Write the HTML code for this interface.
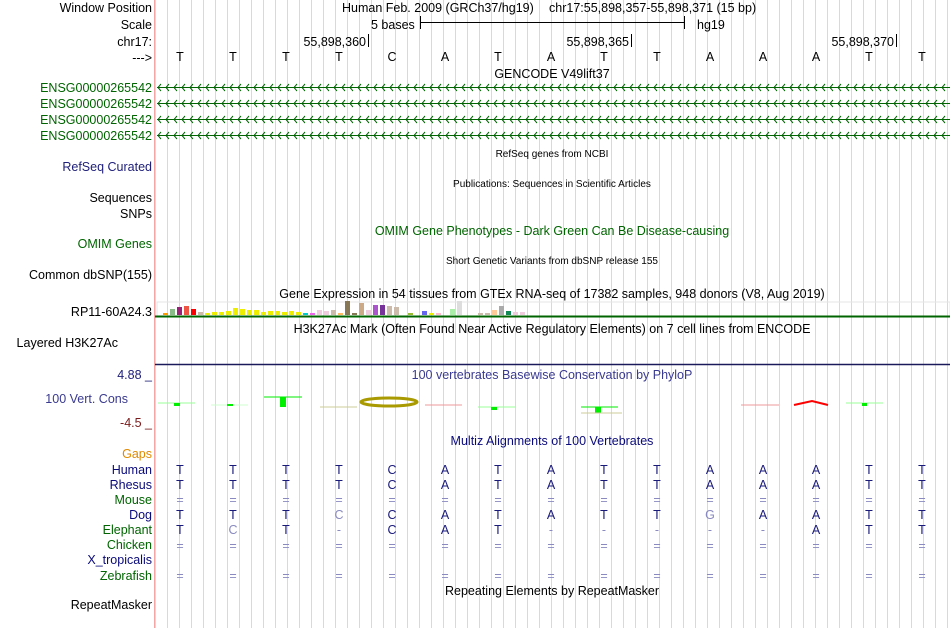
<!DOCTYPE html>
<html><head><meta charset="utf-8"><style>
html,body{margin:0;padding:0;background:#fff}
svg{display:block;font-family:"Liberation Sans",sans-serif}
</style></head><body>
<svg width="950" height="628" viewBox="0 0 950 628" xmlns="http://www.w3.org/2000/svg">
<defs>
<pattern id="grid" x="167" y="0" width="12" height="628" patternUnits="userSpaceOnUse">
<line x1="0.5" y1="0" x2="0.5" y2="628" stroke="#d6d6f4" stroke-width="1"/>
</pattern>
<pattern id="chev" x="157" y="0" width="8" height="628" patternUnits="userSpaceOnUse">
<path d="M4 84 L1 87.5 L4 91 M4 100 L1 103.5 L4 107 M4 116 L1 119.5 L4 123 M4 132 L1 135.5 L4 139" stroke="#006400" fill="none" stroke-width="1"/>
</pattern>
</defs>
<rect x="155" y="0" width="795" height="628" fill="url(#grid)"/>
<line x1="154.5" y1="0" x2="154.5" y2="628" stroke="#f4a6a6"/>
<g stroke="#006400">
<line x1="157" y1="87.5" x2="950" y2="87.5"/><line x1="157" y1="103.5" x2="950" y2="103.5"/><line x1="157" y1="119.5" x2="950" y2="119.5"/><line x1="157" y1="135.5" x2="950" y2="135.5"/>
</g>
<rect x="157" y="80" width="793" height="62" fill="url(#chev)"/>
<g font-size="12.5" text-anchor="end" fill="#000">
<text x="152" y="12">Window Position</text>
<text x="152" y="29">Scale</text>
<text x="152" y="46">chr17:</text>
<text x="152" y="62">---&gt;</text>
<g fill="#006400"><text x="152" y="92">ENSG00000265542</text><text x="152" y="108">ENSG00000265542</text><text x="152" y="124">ENSG00000265542</text><text x="152" y="140">ENSG00000265542</text></g>
<text x="152" y="171" fill="#20207a">RefSeq Curated</text>
<text x="152" y="202">Sequences</text>
<text x="152" y="218">SNPs</text>
<text x="152" y="248" fill="#006400">OMIM Genes</text>
<text x="152" y="279">Common dbSNP(155)</text>
<text x="152" y="316">RP11-60A24.3</text>
<text x="118" y="347">Layered H3K27Ac</text>
<text x="152" y="379" fill="#20207a">4.88 _</text>
<text x="128" y="403" fill="#3a3a90">100 Vert. Cons</text>
<text x="152" y="427" fill="#7a1a1a">-4.5 _</text>
<text x="152" y="458" fill="#e08a00">Gaps</text>
<text x="152" y="474" fill="#0a0a7a">Human</text>
<text x="152" y="489" fill="#0a0a7a">Rhesus</text>
<text x="152" y="504" fill="#006400">Mouse</text>
<text x="152" y="519" fill="#0a0a7a">Dog</text>
<text x="152" y="534" fill="#006400">Elephant</text>
<text x="152" y="549" fill="#006400">Chicken</text>
<text x="152" y="564" fill="#0a0a7a">X_tropicalis</text>
<text x="152" y="580" fill="#006400">Zebrafish</text>
<text x="152" y="609">RepeatMasker</text>
</g>
<g font-size="12.5" fill="#000">
<text x="342" y="12">Human Feb. 2009 (GRCh37/hg19)</text>
<text x="549" y="12">chr17:55,898,357-55,898,371 (15 bp)</text>
<text x="371" y="29">5 bases</text>
<line x1="420.5" y1="16" x2="420.5" y2="29" stroke="#000"/>
<line x1="420" y1="22.5" x2="684" y2="22.5" stroke="#000"/>
<line x1="684.5" y1="16" x2="684.5" y2="29" stroke="#000"/>
<text x="697" y="29">hg19</text>
<text x="366" y="46" text-anchor="end">55,898,360</text><line x1="368.5" y1="34" x2="368.5" y2="47" stroke="#000"/>
<text x="629" y="46" text-anchor="end">55,898,365</text><line x1="631.5" y1="34" x2="631.5" y2="47" stroke="#000"/>
<text x="894" y="46" text-anchor="end">55,898,370</text><line x1="896.5" y1="34" x2="896.5" y2="47" stroke="#000"/>
<text y="61" text-anchor="middle" x="180 233 286 339 392 445 498 551 604 657 710 763 816 869 922">TTTTCATATTAAATT</text>
<text x="552" y="78" text-anchor="middle">GENCODE V49lift37</text>
<text x="552" y="298" text-anchor="middle">Gene Expression in 54 tissues from GTEx RNA-seq of 17382 samples, 948 donors (V8, Aug 2019)</text>
<text x="552" y="333" text-anchor="middle">H3K27Ac Mark (Often Found Near Active Regulatory Elements) on 7 cell lines from ENCODE</text>
<text x="552" y="379" text-anchor="middle" fill="#3a3a90">100 vertebrates Basewise Conservation by PhyloP</text>
<text x="552" y="445" text-anchor="middle" fill="#0a0a7a">Multiz Alignments of 100 Vertebrates</text>
<text x="552" y="235" text-anchor="middle" fill="#006400">OMIM Gene Phenotypes - Dark Green Can Be Disease-causing</text>
<text x="552" y="595" text-anchor="middle">Repeating Elements by RepeatMasker</text>
</g>
<g font-size="10" fill="#000" text-anchor="middle">
<text x="552" y="157">RefSeq genes from NCBI</text>
<text x="552" y="187">Publications: Sequences in Scientific Articles</text>
<text x="552" y="264">Short Genetic Variants from dbSNP release 155</text>
</g>
<rect x="157" y="302" width="793" height="14" fill="none" stroke="#e4e4e4"/>
<g>
<rect x="163" y="313" width="5" height="2" fill="#f90"/>
<rect x="170" y="309" width="5" height="6" fill="#8b8"/>
<rect x="177" y="307" width="5" height="8" fill="#927"/>
<rect x="184" y="306" width="5" height="9" fill="#e54"/>
<rect x="191" y="309" width="5" height="6" fill="#f00"/>
<rect x="198" y="312" width="5" height="3" fill="#cba"/>
<rect x="205" y="313" width="5" height="2" fill="#ee0"/>
<rect x="212" y="312" width="5" height="3" fill="#ee0"/>
<rect x="219" y="312" width="5" height="3" fill="#ee0"/>
<rect x="226" y="311" width="5" height="4" fill="#ee0"/>
<rect x="233" y="308" width="5" height="7" fill="#ee0"/>
<rect x="240" y="309" width="5" height="6" fill="#ee0"/>
<rect x="247" y="310" width="5" height="5" fill="#ee0"/>
<rect x="254" y="310" width="5" height="5" fill="#ee0"/>
<rect x="261" y="312" width="5" height="3" fill="#ee0"/>
<rect x="268" y="311" width="5" height="4" fill="#ee0"/>
<rect x="275" y="311" width="5" height="4" fill="#ee0"/>
<rect x="282" y="312" width="5" height="3" fill="#ee0"/>
<rect x="289" y="311" width="5" height="4" fill="#ee0"/>
<rect x="296" y="312" width="5" height="3" fill="#ee0"/>
<rect x="303" y="313" width="5" height="2" fill="#0cc"/>
<rect x="310" y="313" width="5" height="2" fill="#e6e"/>
<rect x="317" y="310" width="5" height="5" fill="#ecd"/>
<rect x="324" y="311" width="5" height="4" fill="#ecd"/>
<rect x="331" y="310" width="5" height="5" fill="#cba"/>
<rect x="338" y="313" width="5" height="2" fill="#fb6"/>
<rect x="345" y="301" width="5" height="14" fill="#875"/>
<rect x="352" y="313" width="5" height="2" fill="#875"/>
<rect x="359" y="303" width="5" height="12" fill="#ca8"/>
<rect x="366" y="310" width="5" height="5" fill="#ecd"/>
<rect x="373" y="305" width="5" height="10" fill="#a5c"/>
<rect x="380" y="305" width="5" height="10" fill="#739"/>
<rect x="387" y="306" width="5" height="9" fill="#cba"/>
<rect x="394" y="307" width="5" height="8" fill="#cba"/>
<rect x="408" y="313" width="5" height="2" fill="#9b3"/>
<rect x="422" y="311" width="5" height="4" fill="#66e"/>
<rect x="429" y="313" width="5" height="2" fill="#ee0"/>
<rect x="436" y="313" width="5" height="2" fill="#fbc"/>
<rect x="450" y="309" width="5" height="6" fill="#aea"/>
<rect x="457" y="301" width="5" height="14" fill="#ddd"/>
<rect x="478" y="313" width="5" height="2" fill="#cba"/>
<rect x="485" y="313" width="5" height="2" fill="#cba"/>
<rect x="492" y="310" width="5" height="5" fill="#fc9"/>
<rect x="499" y="306" width="5" height="9" fill="#aaa"/>
<rect x="506" y="311" width="5" height="4" fill="#185"/>
<rect x="513" y="312" width="5" height="3" fill="#ecd"/>
<rect x="520" y="312" width="5" height="3" fill="#ecd"/>
</g>
<line x1="155" y1="316.5" x2="950" y2="316.5" stroke="#006400" stroke-width="2"/>
<line x1="155" y1="364.5" x2="950" y2="364.5" stroke="#1a1a5a" stroke-width="1.5"/>
<g>
<line x1="158" y1="403" x2="195" y2="403" stroke="#9f9"/><rect x="174" y="403" width="6" height="3" fill="#0e0"/>
<line x1="211" y1="405" x2="248" y2="405" stroke="#cfc"/><rect x="227" y="404" width="6" height="2" fill="#0e0"/>
<line x1="264" y1="397" x2="302" y2="397" stroke="#0e0"/><rect x="280" y="397" width="6" height="10" fill="#0e0"/>
<line x1="320" y1="407" x2="357" y2="407" stroke="#cc9"/>
<ellipse cx="389" cy="402" rx="28" ry="4" fill="none" stroke="#a89a00" stroke-width="3"/>
<line x1="425" y1="405" x2="462" y2="405" stroke="#e99"/>
<line x1="478" y1="407" x2="515" y2="407" stroke="#9f9"/><rect x="491" y="407" width="6" height="3" fill="#0e0"/>
<line x1="581" y1="407" x2="618" y2="407" stroke="#0e0"/><rect x="595" y="407" width="6" height="6" fill="#0e0"/><line x1="581" y1="413" x2="622" y2="413" stroke="#cc9"/>
<line x1="741" y1="405" x2="779" y2="405" stroke="#e99"/>
<path d="M794 405 L812 401 L828 405" stroke="#f00" stroke-width="2" fill="none"/>
<line x1="846" y1="403" x2="883" y2="403" stroke="#9f9"/><rect x="862" y="403" width="5" height="3" fill="#0e0"/>
</g>
<g font-size="12.5" text-anchor="middle" fill="#1a1a7a">
<text y="474" x="180 233 286 339 392 445 498 551 604 657 710 763 816 869 922">TTTTCATATTAAATT</text>
<text y="489" x="180 233 286 339 392 445 498 551 604 657 710 763 816 869 922">TTTTCATATTAAATT</text>
<text y="504" fill="#8a8ac0" x="180 233 286 339 392 445 498 551 604 657 710 763 816 869 922">===============</text>
<text y="519" x="180 233 286 392 445 498 551 604 657 763 816 869 922">TTTCATATTAATT</text>
<text y="519" fill="#8a8ac0" x="339 710">CG</text>
<text y="534" x="180 286 392 445 498 816 869 922">TTCATATT</text>
<text y="534" fill="#8a8ac0" x="233 339 551 604 657 710 763">C------</text>
<text y="550" fill="#8a8ac0" x="180 233 286 339 392 445 498 551 604 657 710 763 816 869 922">===============</text>
<text y="580" fill="#8a8ac0" x="180 233 286 339 392 445 498 551 604 657 710 763 816 869 922">===============</text>
</g>
</svg>
</body></html>
